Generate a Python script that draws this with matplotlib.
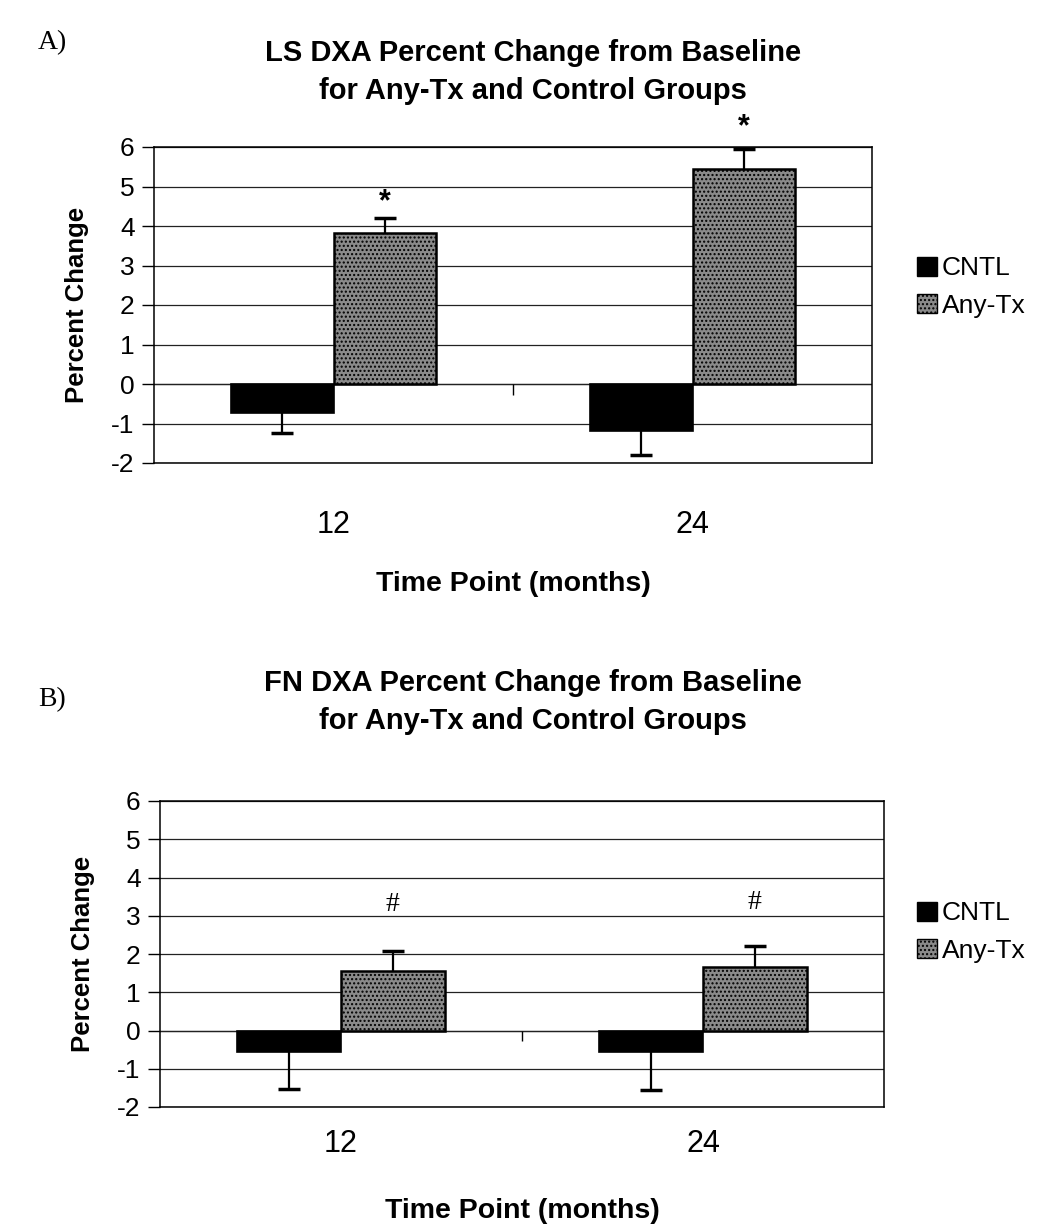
import matplotlib
matplotlib.use("Agg")
import matplotlib.pyplot as plt
import numpy as np
from matplotlib.patches import Patch

# ---- data ----
categories = ["12", "24"]
series_names = ["CNTL", "Any-Tx"]

ls_cntl = [-0.74, -1.19]
ls_cntl_err = [0.51, 0.60]
ls_tx = [3.82, 5.44]
ls_tx_err = [0.38, 0.52]
ls_marks = ["*", "*"]
ls_mark_y = [4.6, 6.5]

fn_cntl = [-0.57, -0.55]
fn_cntl_err = [0.95, 1.00]
fn_tx = [1.56, 1.66]
fn_tx_err = [0.51, 0.56]
fn_marks = ["#", "#"]
fn_mark_y = [3.3, 3.35]

yticks = [-2, -1, 0, 1, 2, 3, 4, 5, 6]

titles = ["LS DXA Percent Change from Baseline\nfor Any-Tx and Control Groups",
          "FN DXA Percent Change from Baseline\nfor Any-Tx and Control Groups"]
panel_labels = ["A)", "B)"]
xlabel = "Time Point (months)"
ylabel = "Percent Change"

# ---- style ----
SANS = ["Liberation Sans", "DejaVu Sans"]
SERIF = ["Liberation Serif", "DejaVu Serif"]
CNTL_COLOR = "#000000"
TX_COLOR = "#8a8a8a"

W, H = 1042, 1231
fig = plt.figure(figsize=(W / 100, H / 100), dpi=100)


def px_axes(x0, y0, x1, y1):
    return fig.add_axes([x0 / W, 1 - y1 / H, (x1 - x0) / W, (y1 - y0) / H])


def panel(ax, cntl, cntl_err, tx, tx_err, marks, mark_y, mark_family, mark_size,
          mark_weight, xpad, xlabelpad):
    x = np.arange(len(categories))
    bw = 0.286
    ax.set_axisbelow(True)
    ax.bar(x - bw / 2, cntl, bw, color=CNTL_COLOR, edgecolor="black", lw=1.2, zorder=3)
    ax.bar(x + bw / 2, tx, bw, color=TX_COLOR, edgecolor="black", lw=1.8,
           hatch="....", zorder=3)
    _, capsC, _ = ax.errorbar(x - bw / 2, cntl, yerr=[cntl_err, [0] * len(cntl)], fmt="none",
                              ecolor="black", elinewidth=1.6, capsize=8, capthick=2.5, zorder=4)
    capsC[1].set_visible(False)
    _, capsT, _ = ax.errorbar(x + bw / 2, tx, yerr=[[0] * len(tx), tx_err], fmt="none",
                              ecolor="black", elinewidth=1.6, capsize=8, capthick=2.5, zorder=4)
    capsT[0].set_visible(False)
    for xi, m, my in zip(x, marks, mark_y):
        ax.text(xi + bw / 2, my, m, ha="center", va="center", family=mark_family,
                fontsize=mark_size, fontweight=mark_weight, clip_on=False)
    ax.set_xlim(-0.5, len(categories) - 0.5)
    ax.set_ylim(min(yticks), max(yticks))
    ax.set_yticks(yticks)
    ax.set_yticklabels([str(t) for t in yticks], family=SANS, fontsize=19)
    ax.yaxis.grid(True, color="#222222", lw=0.9)
    ax.axhline(0, color="#222222", lw=0.9, zorder=2)
    ax.vlines(0.5, -0.27, 0, color="black", lw=1)
    ax.set_xticks(x)
    ax.set_xticklabels(categories, family=SANS, fontsize=22)
    ax.tick_params(axis="x", length=0, pad=xpad)
    ax.tick_params(axis="y", length=9, width=1, pad=5)
    for s in ax.spines.values():
        s.set_color("black")
        s.set_linewidth(1.1)
    ax.set_ylabel(ylabel, family=SANS, fontweight="bold", fontsize=18.5, labelpad=16)
    ax.set_xlabel(xlabel, family=SANS, fontweight="bold", fontsize=20.5, labelpad=xlabelpad)
    handles = [Patch(facecolor=CNTL_COLOR, edgecolor="black"),
               Patch(facecolor=TX_COLOR, edgecolor="black", hatch="....")]
    return handles


axA = px_axes(154, 147, 872, 463)
hA = panel(axA, ls_cntl, ls_cntl_err, ls_tx, ls_tx_err, ls_marks, ls_mark_y, SANS, 22,
           "bold", 34, 22)
axB = px_axes(160, 801, 884, 1107)
hB = panel(axB, fn_cntl, fn_cntl_err, fn_tx, fn_tx_err, fn_marks, fn_mark_y, SERIF, 20,
           "normal", 16, 28)

for ax, h, yc in [(axA, hA, 287), (axB, hB, 932)]:
    fig.legend(h, series_names, loc="center left", bbox_to_anchor=(893 / W, 1 - yc / H),
               frameon=False, prop={"family": SANS, "size": 19},
               handlelength=0.75, handleheight=0.75, handletextpad=0.2, labelspacing=0.5)

for title, lab, yc, ylab in [(titles[0], panel_labels[0], 72, 43), (titles[1], panel_labels[1], 702, 700)]:
    fig.text(533 / W, 1 - yc / H, title, ha="center", va="center", family=SANS,
             fontweight="bold", fontsize=21, linespacing=1.45)
    fig.text(52 / W, 1 - ylab / H, lab, ha="center", va="center", family=SERIF, fontsize=20)

fig.savefig("out.png", dpi=100)
